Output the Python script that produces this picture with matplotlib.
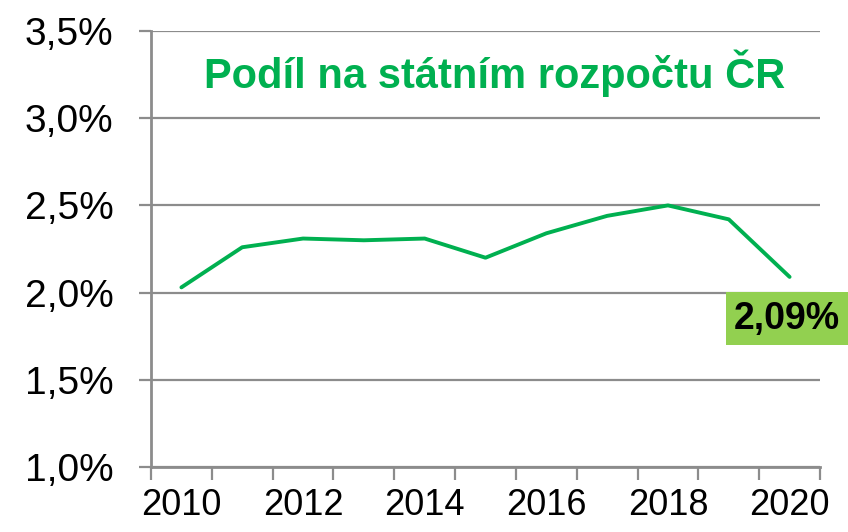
import matplotlib
matplotlib.use("Agg")
import matplotlib.pyplot as plt
from matplotlib.ticker import FixedLocator, FuncFormatter, NullFormatter

plt.rcParams['font.family'] = ['Liberation Sans', 'DejaVu Sans']

years = [2010, 2011, 2012, 2013, 2014, 2015, 2016, 2017, 2018, 2019, 2020]
share = [2.03, 2.26, 2.31, 2.30, 2.31, 2.20, 2.34, 2.44, 2.50, 2.42, 2.09]
title = "Podíl na státním rozpočtu ČR"
last_label = "2,09%"
y_ticks = [1.0, 1.5, 2.0, 2.5, 3.0, 3.5]
label_years = [2010, 2012, 2014, 2016, 2018, 2020]

line_color = "#00B050"
grid_color = "#8C8C8C"
box_color = "#92D050"

fig = plt.figure(figsize=(8.48, 5.32), dpi=100)
ax = fig.add_axes([151/848, 1-467/532, (820-151)/848, (467-31)/532])

x = list(range(len(years)))
ax.plot(x, share, color=line_color, lw=2.8, solid_capstyle='round', zorder=3)

ax.set_xlim(-0.5, len(years) - 0.5)
ax.set_ylim(1.0, 3.5)

ax.yaxis.set_major_locator(FixedLocator(y_ticks))
ax.yaxis.set_major_formatter(FuncFormatter(lambda v, p: f"{v:.1f}".replace(".", ",") + "%"))
ax.grid(axis='y', color=grid_color, lw=1.6, zorder=1)

# category boundary tick marks
ax.xaxis.set_major_locator(FixedLocator([i - 0.5 for i in range(len(years) + 1)]))
ax.xaxis.set_major_formatter(NullFormatter())
label_pos = [years.index(yr) for yr in label_years]
ax.xaxis.set_minor_locator(FixedLocator(label_pos))
ax.xaxis.set_minor_formatter(FuncFormatter(lambda v, p: str(years[int(round(v))])))
ax.tick_params(axis='x', which='major', length=9, width=1.6, color=grid_color, direction='out')
ax.tick_params(axis='x', which='minor', length=0, labelsize=26, pad=15, labelcolor='black')
ax.tick_params(axis='y', which='major', length=9, width=1.6, color=grid_color,
               labelsize=28, pad=18, labelcolor='black')

for s in ['top', 'right']:
    ax.spines[s].set_visible(False)
for s in ['left', 'bottom']:
    ax.spines[s].set_color(grid_color)
    ax.spines[s].set_linewidth(2.0)
    ax.spines[s].set_zorder(2)

ax.text(0.513, 0.869, title, transform=ax.transAxes, ha='center', va='baseline',
        fontsize=30, fontweight='bold', color=line_color)

ax.annotate(last_label, xy=(x[-1], share[-1]), xytext=(-2, -30), textcoords='offset points',
            ha='center', va='center', fontsize=27, fontweight='bold', color='black',
            bbox=dict(boxstyle='square,pad=0.22', fc=box_color, ec='none'),
            annotation_clip=False, zorder=4)

fig.savefig("out.png", dpi=100)
